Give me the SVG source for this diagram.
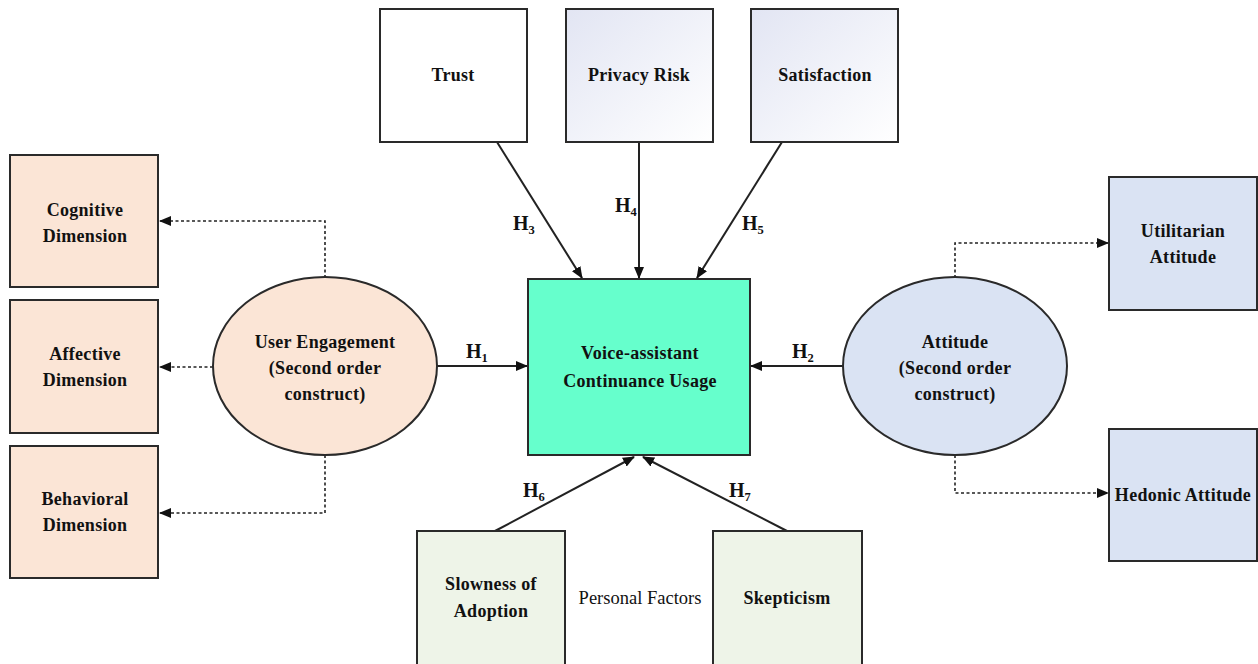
<svg xmlns="http://www.w3.org/2000/svg" width="1258" height="664" viewBox="0 0 1258 664">
<style>
.box{stroke:#2a2a2a;stroke-width:2}
.t{font-family:"Liberation Serif","Times New Roman",serif;font-weight:bold;font-size:18px;letter-spacing:0.3px;fill:#111;text-anchor:middle}
.r{font-family:"Liberation Serif","Times New Roman",serif;font-size:18.5px;fill:#111;text-anchor:middle}
.h{font-family:"Liberation Serif","Times New Roman",serif;font-weight:bold;font-size:20px;fill:#111}
.sub{font-size:12.5px}
.ln{stroke:#222;stroke-width:2;fill:none}
.dt{stroke:#222;stroke-width:1.6;fill:none;stroke-dasharray:3,2.5}
</style>
<defs>
<marker id="ar" markerWidth="12" markerHeight="10" refX="11" refY="5" orient="auto" markerUnits="userSpaceOnUse">
<path d="M0,0 L12,5 L0,10 Z" fill="#111"/>
</marker>
<linearGradient id="lav" x1="0" y1="0" x2="1" y2="1">
<stop offset="0" stop-color="#e2e5f3"/>
<stop offset="1" stop-color="#ffffff"/>
</linearGradient>
</defs>
<rect width="1258" height="664" fill="#fff"/>
<g id="connectors">
<line class="ln" x1="497" y1="142" x2="582" y2="278" marker-end="url(#ar)"/>
<line class="ln" x1="639" y1="142" x2="639" y2="278" marker-end="url(#ar)"/>
<line class="ln" x1="782" y1="142" x2="697" y2="278" marker-end="url(#ar)"/>
<line class="ln" x1="436" y1="366" x2="527" y2="366" marker-end="url(#ar)"/>
<line class="ln" x1="843" y1="366" x2="751" y2="366" marker-end="url(#ar)"/>
<line class="ln" x1="495" y1="531" x2="634" y2="457" marker-end="url(#ar)"/>
<line class="ln" x1="787" y1="531" x2="643" y2="457" marker-end="url(#ar)"/>
<polyline class="dt" points="325,278 325,221 160,221" marker-end="url(#ar)"/>
<line class="dt" x1="213" y1="367" x2="160" y2="367" marker-end="url(#ar)"/>
<polyline class="dt" points="325,455 325,513 160,513" marker-end="url(#ar)"/>
<polyline class="dt" points="955,278 955,243 1108,243" marker-end="url(#ar)"/>
<polyline class="dt" points="955,455 955,493 1108,493" marker-end="url(#ar)"/>
<text class="h" x="466" y="358">H<tspan class="sub" dy="4">1</tspan></text>
<text class="h" x="792" y="358">H<tspan class="sub" dy="4">2</tspan></text>
<text class="h" x="513" y="230">H<tspan class="sub" dy="4">3</tspan></text>
<text class="h" x="615" y="212">H<tspan class="sub" dy="4">4</tspan></text>
<text class="h" x="742" y="230">H<tspan class="sub" dy="4">5</tspan></text>
<text class="h" x="523" y="497">H<tspan class="sub" dy="4">6</tspan></text>
<text class="h" x="729" y="497">H<tspan class="sub" dy="4">7</tspan></text>
</g>
<g id="trust"><rect class="box" x="380" y="9" width="147" height="133" fill="#fff"/><text class="t" x="453" y="81">Trust</text></g>
<g id="privacy"><rect class="box" x="566" y="9" width="147" height="133" fill="url(#lav)"/><text class="t" x="639" y="81">Privacy Risk</text></g>
<g id="satisfaction"><rect class="box" x="751" y="9" width="147" height="133" fill="url(#lav)"/><text class="t" x="825" y="81">Satisfaction</text></g>
<g id="cognitive"><rect class="box" x="10" y="155" width="148" height="132" fill="#fbe5d6"/><text class="t" x="85" y="216">Cognitive</text><text class="t" x="85" y="242">Dimension</text></g>
<g id="affective"><rect class="box" x="10" y="300" width="148" height="133" fill="#fbe5d6"/><text class="t" x="85" y="360">Affective</text><text class="t" x="85" y="386">Dimension</text></g>
<g id="behavioral"><rect class="box" x="10" y="446" width="148" height="132" fill="#fbe5d6"/><text class="t" x="85" y="505">Behavioral</text><text class="t" x="85" y="531">Dimension</text></g>
<g id="user-engagement"><ellipse class="box" cx="325" cy="366" rx="112" ry="89" fill="#fbe5d6"/><text class="t" x="325" y="348">User Engagement</text><text class="t" x="325" y="374">(Second order</text><text class="t" x="325" y="400">construct)</text></g>
<g id="usage"><rect class="box" x="528" y="279" width="222" height="176" fill="#66ffcc"/><text class="t" x="640" y="359">Voice-assistant</text><text class="t" x="640" y="387">Continuance Usage</text></g>
<g id="attitude"><ellipse class="box" cx="955" cy="366" rx="112" ry="89" fill="#dae3f3"/><text class="t" x="955" y="348">Attitude</text><text class="t" x="955" y="374">(Second order</text><text class="t" x="955" y="400">construct)</text></g>
<g id="utilitarian"><rect class="box" x="1109" y="177" width="148" height="133" fill="#dae3f3"/><text class="t" x="1183" y="237">Utilitarian</text><text class="t" x="1183" y="263">Attitude</text></g>
<g id="hedonic"><rect class="box" x="1109" y="429" width="148" height="132" fill="#dae3f3"/><text class="t" x="1183" y="501">Hedonic Attitude</text></g>
<g id="slowness"><rect class="box" x="417" y="531" width="148" height="140" fill="#eef4e8"/><text class="t" x="491" y="590">Slowness of</text><text class="t" x="491" y="617">Adoption</text></g>
<g id="skepticism"><rect class="box" x="713" y="531" width="149" height="140" fill="#eef4e8"/><text class="t" x="787" y="604">Skepticism</text></g>
<text class="r" x="640" y="604">Personal Factors</text>
</svg>
